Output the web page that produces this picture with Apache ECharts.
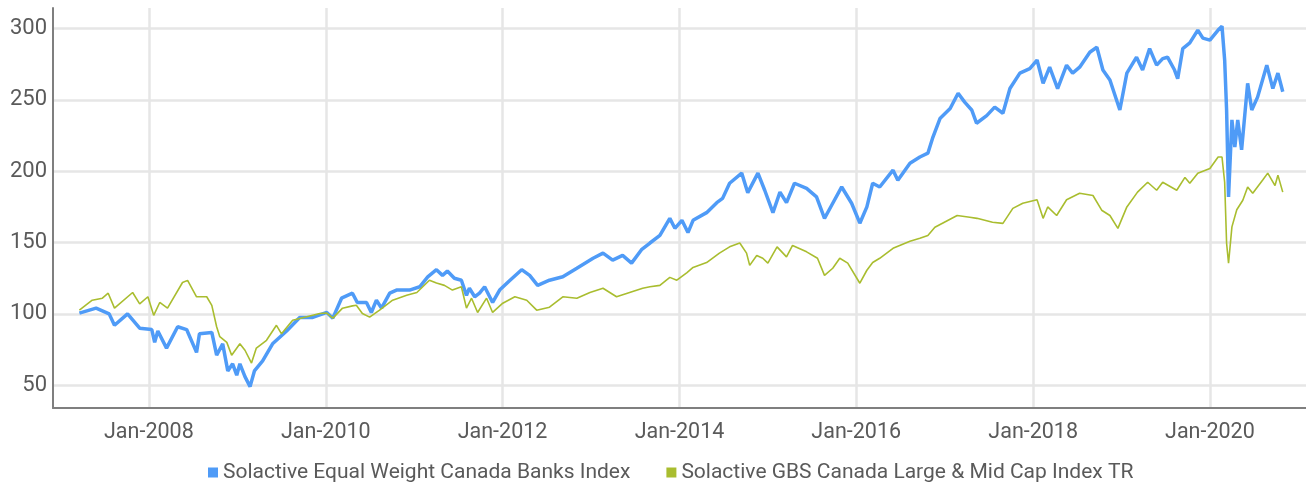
<!DOCTYPE html>
<html>
<head>
<meta charset="utf-8">
<script src="https://cdn.jsdelivr.net/npm/echarts@6/dist/echarts.min.js"></script>
<style>
html,body{margin:0;padding:0;background:#fff;}
#chart{width:1306px;height:493px;}
</style>
</head>
<body>
<div id="chart"></div>
<script>
const bankName = 'Solactive Equal Weight Canada Banks Index';
const gbsName = 'Solactive GBS Canada Large & Mid Cap Index TR';

const bankDates = ['2007-03-20','2007-05-28','2007-07-21','2007-08-12','2007-10-05','2007-11-24','2008-01-13','2008-01-25','2008-02-07','2008-03-14','2008-04-29','2008-06-05','2008-07-16','2008-07-28','2008-09-17','2008-10-07','2008-11-01','2008-11-22','2008-12-12','2008-12-29','2009-01-11','2009-02-01','2009-02-22','2009-03-12','2009-04-15','2009-05-26','2009-07-23','2009-09-15','2009-11-08','2010-01-05','2010-01-30','2010-03-07','2010-04-21','2010-05-11','2010-06-18','2010-07-08','2010-07-29','2010-08-19','2010-09-22','2010-10-20','2010-12-13','2011-01-24','2011-02-26','2011-04-03','2011-04-28','2011-05-18','2011-06-16','2011-07-15','2011-08-05','2011-08-17','2011-09-08','2011-09-28','2011-10-19','2011-11-21','2011-12-20','2012-02-01','2012-03-20','2012-04-22','2012-05-25','2012-07-13','2012-09-06','2012-11-03','2013-01-09','2013-02-19','2013-03-31','2013-05-11','2013-06-17','2013-07-28','2013-09-01','2013-10-12','2013-11-22','2013-12-13','2014-01-11','2014-02-05','2014-02-26','2014-04-23','2014-06-04','2014-06-28','2014-07-27','2014-09-15','2014-10-10','2014-11-21','2014-12-19','2015-01-22','2015-02-20','2015-03-19','2015-04-21','2015-06-10','2015-07-21','2015-08-23','2015-09-21','2015-11-02','2015-12-13','2016-01-16','2016-02-14','2016-03-09','2016-04-07','2016-06-01','2016-06-21','2016-08-10','2016-09-20','2016-10-23','2016-11-13','2016-12-12','2017-01-23','2017-02-25','2017-03-24','2017-04-22','2017-05-12','2017-06-23','2017-07-26','2017-08-29','2017-09-27','2017-11-07','2017-12-18','2018-01-17','2018-02-11','2018-03-10','2018-04-12','2018-05-19','2018-06-13','2018-07-12','2018-08-23','2018-09-21','2018-10-16','2018-11-14','2018-12-25','2019-01-23','2019-03-04','2019-03-29','2019-04-27','2019-05-26','2019-06-20','2019-07-10','2019-08-08','2019-08-21','2019-09-11','2019-10-10','2019-11-12','2019-12-03','2020-01-01','2020-02-04','2020-02-20','2020-03-02','2020-03-10','2020-03-18','2020-04-01','2020-04-13','2020-04-25','2020-05-11','2020-06-05','2020-06-22','2020-07-16','2020-08-23','2020-09-17','2020-10-08','2020-10-28'];
const bankValues = [100.5,104,100,92,100,90,89,80,88,76,91,89,73,86,87,71,79,60,65,57,65,56,49,60,67,79,88,97.5,97.5,101,97,111,114.5,108,108,101,109.6,104,114.5,116.7,116.7,119,126,131,127,130,125,123.6,113,118,112,114.5,119,108,116.7,123.6,131,127,120,123.6,126,132,139,142.6,137.7,141,135.6,145,149.7,155,167,160,165.6,157,165.6,171,178,181,191.6,198.7,185,198.7,186.7,171,185.4,178,191.6,188,182,167,176,189,177.6,163.6,175,191.6,189,200.8,193.7,205.6,210,212.7,224,237,244,254.7,248.5,243,233.7,239,245,240.7,258,268.8,272,278,261.7,273,258,274.4,268.8,273,283.5,287,271,264,243,268.8,280,271,286,274.4,279,280,271,265,286,290,299,293.4,292,299,301.7,278,243,182,236,217,236,215,261.7,243,252,274.4,258,268.8,255.8];

const gbsDates = ['2007-03-20','2007-05-12','2007-06-23','2007-07-17','2007-08-12','2007-10-26','2007-11-24','2007-12-28','2008-01-21','2008-02-15','2008-03-18','2008-05-19','2008-06-09','2008-07-16','2008-08-27','2008-09-17','2008-10-07','2008-10-20','2008-11-18','2008-12-08','2009-01-11','2009-02-01','2009-02-28','2009-03-20','2009-05-01','2009-06-11','2009-07-02','2009-08-17','2009-10-14','2009-12-07','2010-01-05','2010-01-30','2010-03-11','2010-04-21','2010-05-07','2010-06-01','2010-07-01','2010-08-11','2010-10-04','2010-12-01','2011-01-12','2011-03-05','2011-04-03','2011-05-06','2011-06-08','2011-07-15','2011-08-05','2011-08-26','2011-09-20','2011-10-27','2011-11-21','2012-01-02','2012-02-21','2012-04-10','2012-05-21','2012-07-13','2012-09-06','2012-11-03','2012-12-27','2013-02-19','2013-04-16','2013-06-09','2013-08-02','2013-09-01','2013-10-12','2013-11-22','2013-12-21','2014-02-01','2014-02-26','2014-04-23','2014-06-15','2014-07-27','2014-09-07','2014-10-05','2014-10-18','2014-11-16','2014-12-11','2015-01-01','2015-02-08','2015-03-19','2015-04-13','2015-06-10','2015-07-25','2015-08-23','2015-09-26','2015-10-25','2015-11-27','2016-01-16','2016-02-14','2016-03-09','2016-04-07','2016-06-01','2016-08-10','2016-09-20','2016-10-23','2016-11-21','2017-02-21','2017-04-14','2017-05-14','2017-07-17','2017-08-29','2017-10-09','2017-11-19','2018-01-17','2018-02-11','2018-03-02','2018-04-08','2018-05-19','2018-07-12','2018-09-05','2018-10-11','2018-11-14','2018-12-17','2019-01-23','2019-03-08','2019-04-19','2019-05-26','2019-06-20','2019-08-17','2019-09-20','2019-10-10','2019-11-12','2020-01-01','2020-02-04','2020-02-20','2020-03-02','2020-03-10','2020-03-18','2020-04-01','2020-04-21','2020-05-16','2020-06-05','2020-06-26','2020-08-07','2020-08-27','2020-09-26','2020-10-08','2020-10-28'];
const gbsValues = [102.6,109.6,111,114.5,104,115,107,112,99,108,104,122,123.5,112,112,106,91,84,80,71,79,74.5,65.5,76,81.5,92,86,95.6,98,100.3,100.6,97,104,105.6,106,100.3,97.7,102.6,109.6,113,115,123.6,121.6,120,116.7,119,104,111,101,111,101,107.5,112,109.6,102.6,104.7,112,111,115,118,112,115,118,119,120,125.6,123.6,129,132.6,136,142.6,147,149.7,142.6,134,141,139,135.6,147,140,148,143.5,139,127,132,139,135.6,121.5,130.6,136,139,146,151,153,155,160.8,169,167.8,167,164.3,163.5,174,177.6,180,167,175,169,180,184.6,183,172.7,169,160,175,185.4,192.3,186.7,192.3,186.7,195.7,191.6,198.7,202,210,210,192.3,149.5,135.5,161,173,179.7,189,184.6,194,198.7,190,197.3,185.4];

const yTickValues = [50, 100, 150, 200, 250, 300];
const xTickDates = ['2008-01-01','2010-01-01','2012-01-01','2014-01-01','2016-01-01','2018-01-01','2020-01-01'];
const xTickLabels = ['Jan-2008','Jan-2010','Jan-2012','Jan-2014','Jan-2016','Jan-2018','Jan-2020'];

function toTime(s){ const p = s.split('-').map(Number); return Date.UTC(p[0], p[1]-1, p[2]); }
const xTickTimes = xTickDates.map(toTime);
const bankData = bankDates.map((d,i)=>[toTime(d), bankValues[i]]);
const gbsData = gbsDates.map((d,i)=>[toTime(d), gbsValues[i]]);

const chart = echarts.init(document.getElementById('chart'), null, {renderer:'canvas'});
const FONT = 'Roboto';
chart.setOption({
  animation: false,
  backgroundColor: '#ffffff',
  grid: {left: 53, right: 0, top: 8, bottom: 85, containLabel: false},
  legend: {
    bottom: 5, left: 203,
    icon: 'rect', itemWidth: 10, itemHeight: 10, itemGap: 36,
    textStyle: {fontFamily: FONT, fontSize: 21, color: '#5a5a5a'},
    data: [bankName, gbsName]
  },
  xAxis: {
    type: 'value',
    min: toTime('2006-12-01'), max: toTime('2021-02-01'),
    axisLine: {show: true, onZero: false, lineStyle: {color: '#7f7f7f', width: 2}},
    axisTick: {show: false, customValues: xTickTimes},
    axisLabel: {
      customValues: xTickTimes,
      fontFamily: FONT, fontSize: 21.5, color: '#5a5a5a', margin: 14,
      formatter: function(v){ const i = xTickTimes.indexOf(v); return i >= 0 ? xTickLabels[i] : ''; }
    },
    splitLine: {show: true, lineStyle: {color: '#e6e6e6', width: 2.5}}
  },
  yAxis: {
    type: 'value', min: 34, max: 314.5,
    axisLine: {show: true, lineStyle: {color: '#7f7f7f', width: 2}},
    axisTick: {show: false, customValues: yTickValues},
    axisLabel: {customValues: yTickValues, fontFamily: FONT, fontSize: 22, color: '#5a5a5a', margin: 6},
    splitLine: {show: true, lineStyle: {color: '#e6e6e6', width: 2.5}}
  },
  series: [
    {name: bankName, type: 'line', data: bankData, showSymbol: false, symbol: 'none',
     itemStyle: {color: '#4f9bf7'}, lineStyle: {color: '#4f9bf7', width: 3.5}, z: 2},
    {name: gbsName, type: 'line', data: gbsData, showSymbol: false, symbol: 'none',
     itemStyle: {color: '#a9bd2f'}, lineStyle: {color: '#a9bd2f', width: 1.6}, z: 3}
  ]
});
</script>
</body>
</html>
